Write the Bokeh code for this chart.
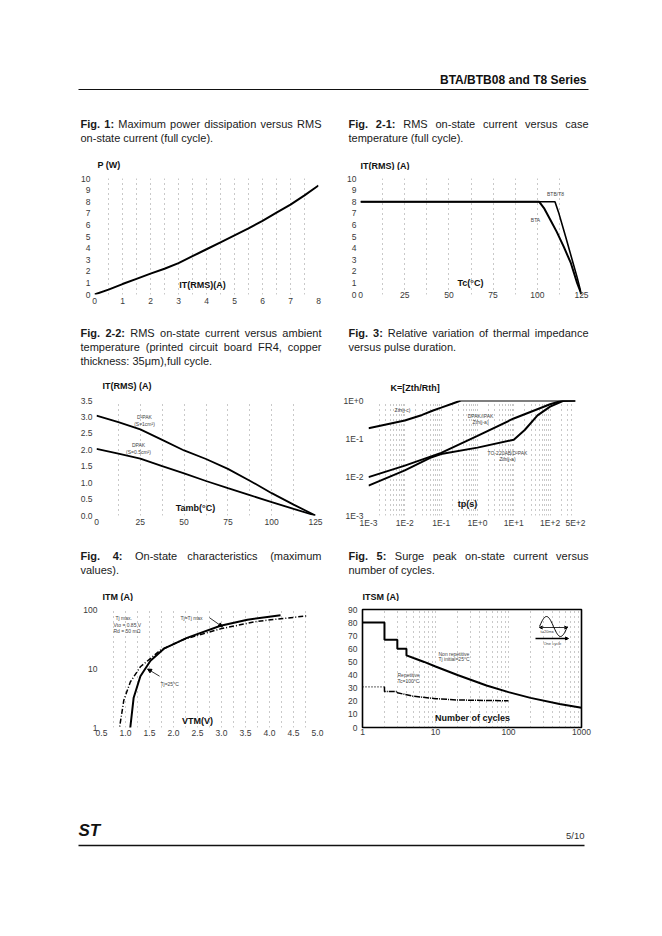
import math
import numpy as np
from bokeh.plotting import figure
from bokeh.layouts import column, row
from bokeh.models import (Label, FixedTicker, CustomJSTickFormatter, NumeralTickFormatter,
                          Range1d, Arrow, NormalHead, VeeHead)
from bokeh.embed import file_html
from bokeh.resources import INLINE

FONT = "Liberation Sans"
TICK_COLOR = "#3a3a3a"
TEXT_COLOR = "#1a1a1a"
NOTE_COLOR = "#444444"

# ---------------- data ----------------
# Fig. 1  P(W) vs IT(RMS)(A)
fig1_it_rms = [0, 0.5, 1, 1.5, 2, 2.5, 3, 3.5, 4, 4.5, 5, 5.5, 6, 6.5, 7, 7.5, 8]
fig1_power = [0, 0.42, 0.9, 1.35, 1.8, 2.22, 2.7, 3.3, 3.9, 4.5, 5.1, 5.7, 6.35, 7.05, 7.75, 8.55, 9.4]
fig1_xticks = [0, 1, 2, 3, 4, 5, 6, 7, 8]
fig1_yticks = [0, 1, 2, 3, 4, 5, 6, 7, 8, 9, 10]

# Fig. 2-1  IT(RMS) vs Tc
fig21_tc_btb = [0, 110, 112, 116, 119.7, 122.5, 125]
fig21_it_btb = [8, 8, 7.1, 5.0, 3.0, 1.5, 0]
fig21_tc_bta = [0, 101, 104, 107.5, 111, 115, 119, 122.5, 125]
fig21_it_bta = [8, 8, 7.4, 6.4, 5.4, 4.1, 2.7, 1.0, 0]
fig21_xticks = [0, 25, 50, 75, 100, 125]
fig21_yticks = [0, 1, 2, 3, 4, 5, 6, 7, 8, 9, 10]

# Fig. 2-2  IT(RMS) vs Tamb
fig22_tamb = [0, 12.5, 25, 37.5, 50, 62.5, 75, 87.5, 100, 112.5, 125]
fig22_it_d2pak = [3.04, 2.84, 2.62, 2.3, 1.98, 1.72, 1.42, 1.06, 0.68, 0.33, 0]
fig22_it_dpak = [2.03, 1.88, 1.73, 1.5, 1.28, 1.05, 0.83, 0.62, 0.41, 0.2, 0]
fig22_xticks = [0, 25, 50, 75, 100, 125]
fig22_yticks = [0, 0.5, 1.0, 1.5, 2.0, 2.5, 3.0, 3.5]

# Fig. 3  K = Zth/Rth vs tp(s)
fig3_tp_jc = [1e-3, 1e-2, 3e-2, 6e-2, 1e-1, 2e-1, 3.5e-1, 5e2]
fig3_k_jc = [0.19, 0.30, 0.42, 0.55, 0.65, 0.82, 1.0, 1.0]
fig3_tp_dpak = [1e-3, 1e-2, 1e-1, 1, 10, 100, 200, 5e2]
fig3_k_dpak = [0.010, 0.020, 0.043, 0.12, 0.34, 0.80, 0.97, 1.0]
fig3_tp_to220 = [1e-3, 1e-2, 5e-2, 1e-1, 1, 10, 20, 45, 100, 240, 5e2]
fig3_k_to220 = [0.006, 0.015, 0.032, 0.040, 0.059, 0.095, 0.17, 0.41, 0.69, 1.0, 1.0]
fig3_xticks = [1e-3, 1e-2, 1e-1, 1, 10, 100, 500]
fig3_yticks = [1e-3, 1e-2, 1e-1, 1]

# Fig. 4  ITM vs VTM
fig4_vtm_tjmax = [0.83, 0.88, 0.965, 1.10, 1.31, 1.73, 2.21, 2.98, 3.74, 4.79]
fig4_itm_tjmax = [0.8, 1.05, 2.9, 5.9, 10.7, 20.5, 31, 47, 63, 78]
fig4_vtm_tj25 = [1.09, 1.10, 1.17, 1.31, 1.52, 1.80, 2.28, 2.98, 3.54, 4.23]
fig4_itm_tj25 = [0.8, 1.0, 3.2, 7.4, 13.5, 21.7, 33, 53, 67, 80]
fig4_xticks = [0.5, 1.0, 1.5, 2.0, 2.5, 3.0, 3.5, 4.0, 4.5, 5.0]
fig4_yticks = [1, 10, 100]

# Fig. 5  ITSM vs number of cycles
fig5_n_nonrep = [1, 2, 2, 3, 3, 4, 4, 5, 7, 10, 20, 50, 100, 200, 500, 1000]
fig5_itsm_nonrep = [80, 80, 67, 67, 60, 60, 55, 53, 50, 46.5, 40, 32, 27, 22.6, 18, 15]
fig5_n_rep_first = [1, 2]
fig5_itsm_rep_first = [31, 31]
fig5_n_rep = [2, 2, 3, 3, 5, 10, 20, 50, 100]
fig5_itsm_rep = [31, 27.4, 27.4, 26.5, 23.8, 22, 21, 20.6, 20.4]
fig5_xticks = [1, 10, 100, 1000]
fig5_yticks = [0, 10, 20, 30, 40, 50, 60, 70, 80, 90]

# ---------------- font metrics (Liberation Sans ~ Arial), per 1000 em ----------------
REG_W = {' ': 278, '(': 333, ')': 333, ',': 278, '-': 333, '.': 278, '/': 278, ':': 278,
         'A': 667, 'B': 667, 'C': 722, 'D': 722, 'E': 667, 'F': 611, 'G': 778, 'H': 722,
         'I': 278, 'M': 833, 'N': 722, 'P': 667, 'R': 722, 'S': 667, 'T': 611,
         'a': 556, 'b': 556, 'c': 500, 'd': 556, 'e': 556, 'f': 278, 'g': 556, 'h': 556,
         'i': 222, 'k': 500, 'l': 222, 'm': 833, 'n': 556, 'o': 556, 'p': 556, 'r': 333,
         's': 500, 't': 278, 'u': 556, 'v': 500, 'w': 722, 'x': 500, 'y': 500, 'z': 500,
         'μ': 576}
BOLD_W = {' ': 278, '.': 278, '-': 333, ':': 333, 'F': 611, 'i': 278, 'g': 611}

PAGE_W = 654


def text_width(s, size, bold=False):
    table = BOLD_W if bold else REG_W
    return sum(table.get(c, 556) for c in s) * size / 1000.0


def page_figure(page_top, h, w=PAGE_W):
    """A text strip whose data units are page pixels (origin at page (0, page_top))."""
    p = figure(width=w, height=h, x_range=Range1d(0, w), y_range=Range1d(page_top + h, page_top),
               x_axis_type=None, y_axis_type=None, output_backend="svg",
               toolbar_location=None, title=None, min_border=0)
    p.outline_line_color = None
    p.background_fill_color = "white"
    p.border_fill_color = "white"
    return p


def put(p, px, py, s, size="9px", bold=False, align="left", color=TEXT_COLOR, italic=False):
    style = "bold" if bold else "normal"
    if italic:
        style = "bold italic" if bold else "italic"
    p.add_layout(Label(x=px, y=py, text=s, text_font=FONT, text_font_size=size,
                       text_font_style=style, text_align=align, text_baseline="middle",
                       text_color=color))


def caption(p, px, py, prefix, lines, width=240, size=11, lead=14.2):
    fs = "%spx" % size
    for i, line in enumerate(lines):
        words = line.split(" ")
        bolds = [False] * len(words)
        if i == 0:
            pw = prefix.split(" ")
            words = pw + words
            bolds = [True] * len(pw) + bolds
        y = py + i * lead
        if i == len(lines) - 1 and i > 0:
            put(p, px, y, line, size=fs)
            continue
        widths = [text_width(wd, size, b) for wd, b in zip(words, bolds)]
        if i < len(lines) - 1 and len(words) > 1:
            gap = (width - sum(widths)) / (len(words) - 1)
        else:
            gap = text_width(" ", size)
        x = px
        for wd, b, ww in zip(words, bolds, widths):
            put(p, x, y, wd, size=fs, bold=b)
            x += ww + gap


class Chart:
    def __init__(self, fig_x, fig_y, w, h, frame, x_range, y_range,
                 x_type="linear", y_type="linear", outline=False):
        fl, fr, ft, fb = frame
        self.fl, self.fr, self.ft, self.fb = fl, fr, ft, fb
        self.xr, self.yr = x_range, y_range
        self.xlog, self.ylog = x_type == "log", y_type == "log"
        self.x0, self.y1 = x_range[0], y_range[1]
        p = figure(width=w, height=h, x_range=Range1d(*x_range), y_range=Range1d(*y_range),
                   x_axis_type=x_type, y_axis_type=y_type, output_backend="svg",
                   toolbar_location=None, title=None,
                   min_border_left=fl - fig_x, min_border_right=fig_x + w - fr,
                   min_border_top=ft - fig_y, min_border_bottom=fig_y + h - fb)
        p.background_fill_color = "white"
        p.border_fill_color = "white"
        p.outline_line_color = "black" if outline else None
        p.outline_line_width = 1.6
        for ax in p.axis:
            ax.axis_line_color = None
            ax.major_tick_line_color = None
            ax.minor_tick_line_color = None
            ax.major_tick_out = 0
            ax.major_tick_in = 0
            ax.minor_tick_out = 0
            ax.minor_tick_in = 0
            ax.major_label_text_font = FONT
            ax.major_label_text_font_size = "8.5px"
            ax.major_label_text_color = TICK_COLOR
        p.ygrid.grid_line_color = None
        p.xgrid.grid_line_color = "#3a3a3a"
        p.xgrid.grid_line_dash = "1 4"
        p.xgrid.grid_line_width = 1
        p.xgrid.grid_line_alpha = 0.55
        self.p = p

    def ticks(self, xt, yt, grid_x, xs=3, ys=4):
        self.p.xaxis.ticker = FixedTicker(ticks=xt)
        self.p.yaxis.ticker = FixedTicker(ticks=yt)
        self.p.xgrid.ticker = FixedTicker(ticks=grid_x)
        self.p.xaxis.major_label_standoff = xs
        self.p.yaxis.major_label_standoff = ys

    def to_data(self, px, py):
        """Invert the chart's own scales (used only for the decorative inset pictogram)."""
        fx = (np.asarray(px, dtype=float) - self.fl) / (self.fr - self.fl)
        fy = (self.fb - np.asarray(py, dtype=float)) / (self.fb - self.ft)
        a, b = self.xr
        c, d = self.yr
        x = 10 ** (math.log10(a) + fx * (math.log10(b) - math.log10(a))) if self.xlog else a + fx * (b - a)
        y = 10 ** (math.log10(c) + fy * (math.log10(d) - math.log10(c))) if self.ylog else c + fy * (d - c)
        return x, y

    def text(self, px, py, s, size="5px", bold=False, align="left", color=NOTE_COLOR):
        """Text inside the frame, placed by page pixel offset from the frame's top-left corner."""
        self.p.add_layout(Label(x=self.x0, y=self.y1, x_offset=px - self.fl, y_offset=self.ft - py,
                                text=s, text_font=FONT, text_font_size=size,
                                text_font_style="bold" if bold else "normal",
                                text_align=align, text_baseline="middle", text_color=color))


AX_TITLE = dict(size="9px", bold=True, color="#111111")
LW, RW = 331, PAGE_W - 331   # widths of the left and right chart columns

# ---------------- header ----------------
header = page_figure(0, 100)
put(header, 586, 79, "BTA/BTB08 and T8 Series", size="12px", bold=True, align="right", color="#111111")
header.line(x=[78, 588], y=[89, 89], line_color="#111111", line_width=1.2)

# ---------------- band 1: captions strip ----------------
strip1 = page_figure(100, 70)
caption(strip1, 80, 123, "Fig. 1:", ["Maximum power dissipation versus RMS", "on-state current (full cycle)."], width=241)
caption(strip1, 348, 123, "Fig. 2-1:", ["RMS on-state current versus case", "temperature (full cycle)."], width=240)
put(strip1, 97, 164, "P (W)", **AX_TITLE)
put(strip1, 360, 165, "IT(RMS) (A)", **AX_TITLE)

# Fig. 1
c1 = Chart(0, 170, LW, 145, (94, 318, 176, 296), (0, 8), (0, 10))
c1.ticks(fig1_xticks, fig1_yticks, [v * 0.5 for v in range(1, 16)], xs=3, ys=4)
c1.p.line(fig1_it_rms, fig1_power, line_color="black", line_width=2)
c1.text(202, 282, "IT(RMS)(A)", size="9px", bold=True, align="center", color="#111111")

# Fig. 2-1
c21 = Chart(331, 170, RW, 145, (360, 581, 178, 294), (0, 125), (0, 10))
c21.ticks(fig21_xticks, fig21_yticks, [12.5 * k for k in range(1, 10)], xs=-3, ys=4)
c21.p.line(fig21_tc_btb, fig21_it_btb, line_color="black", line_width=1.6)
c21.p.line(fig21_tc_bta, fig21_it_bta, line_color="black", line_width=2)
c21.text(470, 282, "Tc(°C)", size="9px", bold=True, align="center", color="#111111")
c21.text(555, 193, "BTB/T8", align="center")
c21.text(535, 219, "BTA", align="center")

# ---------------- band 2: captions strip ----------------
strip2 = page_figure(315, 78)
caption(strip2, 80, 332, "Fig. 2-2:", ["RMS on-state current versus ambient",
                                        "temperature (printed circuit board FR4, copper",
                                        "thickness: 35μm),full cycle."], width=241)
caption(strip2, 348, 332, "Fig. 3:", ["Relative variation of thermal impedance", "versus pulse duration."], width=240)
put(strip2, 102, 385, "IT(RMS) (A)", **AX_TITLE)
put(strip2, 390, 387, "K=[Zth/Rth]", **AX_TITLE)

# Fig. 2-2
c22 = Chart(0, 393, LW, 147, (96, 315, 399, 515), (0, 125), (0, 3.5))
c22.ticks(fig22_xticks, fig22_yticks, [12.5 * k for k in range(1, 10)], xs=3, ys=4)
c22.p.yaxis.formatter = NumeralTickFormatter(format="0.0")
c22.p.line(fig22_tamb, fig22_it_d2pak, line_color="black", line_width=1.8)
c22.p.line(fig22_tamb, fig22_it_dpak, line_color="black", line_width=1.8)
c22.text(195, 506, "Tamb(°C)", size="9px", bold=True, align="center", color="#111111")
c22.text(144, 415, "D²PAK", align="center")
c22.text(144, 422, "(S=1cm²)", align="center")
c22.text(138, 443, "DPAK", align="center")
c22.text(138, 450, "(S=0.5cm²)", align="center")

# Fig. 3
c3 = Chart(331, 393, RW, 147, (368, 575, 400, 516), (1e-3, 5e2), (1e-3, 1), x_type="log", y_type="log")
fig3_minor = [m * 10.0 ** d for d in range(-3, 3) for m in range(2, 10) if m * 10.0 ** d < 500]
c3.ticks(fig3_xticks, fig3_yticks, fig3_minor + [1e-2, 1e-1, 1, 10, 100], xs=2, ys=5)
c3.p.xaxis.formatter = CustomJSTickFormatter(code="return tick.toExponential(0).toUpperCase();")
c3.p.yaxis.formatter = CustomJSTickFormatter(code="return tick.toExponential(0).toUpperCase();")
c3.p.line(fig3_tp_jc, fig3_k_jc, line_color="black", line_width=2)
c3.p.line(fig3_tp_dpak, fig3_k_dpak, line_color="black", line_width=2)
c3.p.line(fig3_tp_to220, fig3_k_to220, line_color="black", line_width=2)
c3.text(467, 503, "tp(s)", size="9px", bold=True, align="center", color="#111111")
c3.text(402, 409, "Zth(j-c)", align="center")
c3.text(480, 415, "DPAK/IPAK", align="center")
c3.text(480, 421, "Zth(j-a)", align="center")
c3.text(507, 452, "TO-220AB/D²PAK", align="center")
c3.text(507, 458, "Zth(j-a)", align="center")

# ---------------- band 3: captions strip ----------------
strip3 = page_figure(540, 61)
caption(strip3, 80, 555, "Fig. 4:", ["On-state characteristics (maximum", "values)."], width=241)
caption(strip3, 348, 555, "Fig. 5:", ["Surge peak on-state current versus", "number of cycles."], width=240)
put(strip3, 102, 596, "ITM (A)", **AX_TITLE)
put(strip3, 362, 596, "ITSM (A)", **AX_TITLE)

# Fig. 4
c4 = Chart(0, 601, LW, 159, (101, 317, 607, 736), (0.5, 5.0), (1, 100), y_type="log")
c4.ticks(fig4_xticks, fig4_yticks, [0.5 + 0.25 * k for k in range(1, 18)], xs=2, ys=4)
c4.p.xaxis.formatter = NumeralTickFormatter(format="0.0")
c4.p.yaxis.formatter = CustomJSTickFormatter(code="return tick.toString();")
c4.p.line(fig4_vtm_tjmax, fig4_itm_tjmax, line_color="black", line_width=1.5, line_dash="5 2 1 2")
c4.p.line(fig4_vtm_tj25, fig4_itm_tj25, line_color="black", line_width=2)
c4.text(197, 718, "VTM(V)", size="9px", bold=True, align="center", color="#111111")
c4.text(115, 615, "Tj max.")
c4.text(113, 622, "Vto = 0.85 V")
c4.text(113, 628, "Rd = 50 mΩ")
c4.text(180, 615, "Tj=Tj max")
c4.text(160, 681, "Tj=25°C")
c4.p.add_layout(Arrow(end=NormalHead(size=4, line_color="black", fill_color="black"),
                      x_start=2.75, y_start=72.5, x_end=3.02, y_end=50.8,
                      line_color="black", line_width=0.8))
c4.p.add_layout(Arrow(end=NormalHead(size=4, line_color="black", fill_color="black"),
                      x_start=1.71, y_start=7.4, x_end=1.46, y_end=9.8,
                      line_color="black", line_width=0.8))

# Fig. 5
c5 = Chart(331, 601, RW, 159, (362, 581, 609, 727), (1, 1000), (0, 90), x_type="log", outline=True)
fig5_minor = [m * 10.0 ** d for d in range(0, 3) for m in range(2, 10)]
c5.ticks(fig5_xticks, fig5_yticks, fig5_minor + [10, 100], xs=1, ys=5)
c5.p.xaxis.formatter = CustomJSTickFormatter(code="return tick.toString();")
c5.p.line(fig5_n_nonrep, fig5_itsm_nonrep, line_color="black", line_width=2)
c5.p.line(fig5_n_rep_first, fig5_itsm_rep_first, line_color="black", line_width=1.2, line_dash="1 2")
c5.p.line(fig5_n_rep, fig5_itsm_rep, line_color="black", line_width=1.5, line_dash="6 1 1 1")
c5.text(472, 717, "Number of cycles", size="9px", bold=True, align="center", color="#111111")
c5.text(438, 653, "Non repetitive")
c5.text(438, 658, "Tj initial=25°C")
c5.text(397, 674, "Repetitive")
c5.text(397, 680, "Tc=100°C")

# inset pictogram (one sine cycle, t=20ms / One cycle), drawn in page pixels and mapped to data
icon_phase = np.linspace(0.0, 1.0, 41)
icon_x, icon_y = c5.to_data(539 + 28 * icon_phase, 626 - 10 * np.sin(2 * np.pi * icon_phase))
c5.p.line(icon_x, icon_y, line_color="black", line_width=1)
ax0, ay0 = c5.to_data(539, 627)
ax1, ay1 = c5.to_data(567, 627)
c5.p.add_layout(Arrow(start=VeeHead(size=3, line_color="black"), end=VeeHead(size=3, line_color="black"),
                      x_start=ax0, y_start=ay0, x_end=ax1, y_end=ay1, line_color="black", line_width=0.8))
bx0, by0 = c5.to_data(535, 638)
bx1, by1 = c5.to_data(568, 638)
c5.p.add_layout(Arrow(end=NormalHead(size=3, line_color="black", fill_color="black"),
                      x_start=bx0, y_start=by0, x_end=bx1, y_end=by1, line_color="black", line_width=1.6))
c5.text(540, 631, "t=20ms", size="4px")
c5.text(543, 643, "One cycle", size="4px")

# ---------------- footer ----------------
footer = page_figure(760, 140)
put(footer, 78, 830, "ST", size="17px", bold=True, italic=True, color="#111111")
footer.line(x=[78, 584], y=[845, 845], line_color="#111111", line_width=1.6)
put(footer, 584, 835, "5/10", size="9.5px", align="right", color="#333333")

layout = column(header,
                strip1, row(c1.p, c21.p),
                strip2, row(c22.p, c3.p),
                strip3, row(c4.p, c5.p),
                footer)

open("out.html", "w").write(file_html(layout, INLINE, title="BTA/BTB08 and T8 Series"))
